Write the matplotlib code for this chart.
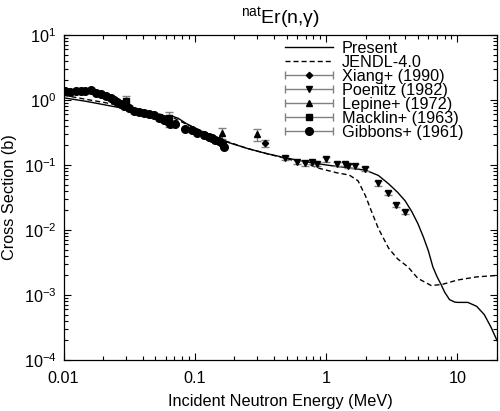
import matplotlib
matplotlib.use('Agg')
import matplotlib.pyplot as plt
import numpy as np
from matplotlib.container import ErrorbarContainer
from matplotlib.legend_handler import HandlerErrorbar

plt.rcParams['font.family'] = ['Liberation Sans', 'DejaVu Sans']
plt.rcParams['font.size'] = 11.7
plt.rcParams['mathtext.fontset'] = 'custom'
plt.rcParams['mathtext.rm'] = 'Liberation Sans'
plt.rcParams['mathtext.it'] = 'Liberation Sans:italic'
plt.rcParams['mathtext.default'] = 'regular'

# evaluated curves (MeV, b)
present_e = [0.01, 0.015, 0.022, 0.03, 0.04, 0.053, 0.062, 0.068, 0.075, 0.085, 0.1,
             0.13, 0.17, 0.25, 0.35, 0.5, 0.7, 1.0, 1.5, 2.0, 2.5, 3.0, 3.5, 4.0,
             4.5, 5.0, 5.5, 6.0, 6.5, 7.0, 7.5, 8.0, 8.7, 9.5, 10.0, 12.0, 14.0,
             16.0, 18.0, 20.0]
present_xs = [1.08, 0.95, 0.82, 0.73, 0.65, 0.59, 0.56, 0.56, 0.52, 0.44, 0.37,
              0.29, 0.23, 0.18, 0.15, 0.128, 0.112, 0.1, 0.09, 0.083, 0.069, 0.051,
              0.038, 0.028, 0.019, 0.0125, 0.0078, 0.0048, 0.0027, 0.0019, 0.00145,
              0.0011, 0.00085, 0.00078, 0.00077, 0.00077, 0.00067, 0.0005, 0.00032,
              0.0002]

jendl_e = [0.01, 0.015, 0.022, 0.03, 0.04, 0.053, 0.062, 0.07, 0.085, 0.1, 0.13,
           0.17, 0.25, 0.35, 0.5, 0.7, 0.9, 1.2, 1.5, 1.75, 2.0, 2.2, 2.5, 3.0,
           3.5, 4.2, 5.0, 6.3, 7.6, 10.0, 14.0, 20.0]
jendl_xs = [1.18, 1.02, 0.89, 0.79, 0.7, 0.61, 0.57, 0.52, 0.43, 0.37, 0.3,
            0.235, 0.18, 0.15, 0.125, 0.105, 0.088, 0.076, 0.07, 0.057, 0.033,
            0.02, 0.0105, 0.0052, 0.0036, 0.0027, 0.0018, 0.0014, 0.00145, 0.0017,
            0.0019, 0.002]

# measurements
xiang_e = [0.34]
xiang_xs = [0.216]
xiang_err = [0.028]

poenitz_e = [0.49, 0.6, 0.69, 0.78, 0.85, 1.0, 1.2, 1.39, 1.47, 1.67, 1.98, 2.5,
             2.96, 3.43, 3.98]
poenitz_xs = [0.127, 0.112, 0.106, 0.112, 0.103, 0.122, 0.103, 0.103, 0.097, 0.097,
              0.086, 0.052, 0.037, 0.0243, 0.019]
poenitz_err = [0.009, 0.008, 0.008, 0.008, 0.007, 0.009, 0.007, 0.007, 0.007, 0.007,
               0.006, 0.004, 0.003, 0.002, 0.0015]

lepine_e = [0.161, 0.297]
lepine_xs = [0.31, 0.296]
lepine_err = [0.06, 0.065]

macklin_e = [0.0297, 0.064]
macklin_xs = [0.95, 0.52]
macklin_err = [0.22, 0.14]

gibbons_e = [0.0103, 0.0113, 0.0124, 0.0135, 0.0147, 0.0163, 0.0176, 0.0192, 0.0209,
             0.0228, 0.0242, 0.0256, 0.0272, 0.0288, 0.0315, 0.0343, 0.0375, 0.041,
             0.0446, 0.0487, 0.0532, 0.058, 0.0615, 0.0652, 0.071, 0.0847, 0.095,
             0.104, 0.117, 0.128, 0.135, 0.143, 0.152, 0.161, 0.166]
gibbons_xs = [1.37, 1.31, 1.39, 1.39, 1.37, 1.44, 1.29, 1.24, 1.16, 1.06, 1.0, 0.92,
              0.87, 0.82, 0.74, 0.68, 0.66, 0.62, 0.6, 0.59, 0.53, 0.49, 0.47, 0.43,
              0.42, 0.36, 0.34, 0.31, 0.29, 0.27, 0.26, 0.24, 0.23, 0.216, 0.19]
gibbons_err = [0.015 * v for v in gibbons_xs]

fig = plt.figure(figsize=(5.0, 4.11), dpi=100)
ax = fig.add_axes([0.127, 0.124, 0.867, 0.791])

ax.plot(present_e, present_xs, color='black', lw=1.0, label='Present')
ax.plot(jendl_e, jendl_xs, color='black', lw=1.0, linestyle=(0, (3.6, 2.2)),
        label='JENDL-4.0')

exp_sets = [
    (xiang_e, xiang_xs, xiang_err, 'D', 3.2, 'Xiang+ (1990)'),
    (poenitz_e, poenitz_xs, poenitz_err, 'v', 4.5, 'Poenitz (1982)'),
    (lepine_e, lepine_xs, lepine_err, '^', 4.5, 'Lepine+ (1972)'),
    (macklin_e, macklin_xs, macklin_err, 's', 4.5, 'Macklin+ (1963)'),
    (gibbons_e, gibbons_xs, gibbons_err, 'o', 5.5, 'Gibbons+ (1961)'),
]

handles, labels = ax.get_legend_handles_labels()
for e, xs, err, mk, ms, lab in exp_sets:
    ax.errorbar(e, xs, yerr=err, fmt=mk, ms=ms, color='black', ecolor='gray',
                elinewidth=1.0, capsize=2.7, capthick=1.0)
    # proxy with horizontal bar for the legend
    h = ax.errorbar([np.nan], [np.nan], xerr=[1.0], fmt=mk, ms=ms, color='black',
                    ecolor='gray', elinewidth=1.0, capsize=2.7, capthick=1.0)
    handles.append(h)
    labels.append(lab)

ax.set_xscale('log')
ax.set_yscale('log')
ax.set_xlim(0.01, 20)
ax.set_ylim(1e-4, 10)
ax.set_xticks([0.01, 0.1, 1, 10])
ax.set_xticklabels(['0.01', '0.1', '1', '10'])

ax.tick_params(which='both', direction='in', top=True, right=True, width=0.8)
ax.tick_params(which='major', length=5)
ax.tick_params(which='minor', length=3)
ax.tick_params(axis='x', which='major', pad=8)
ax.tick_params(axis='y', which='major', pad=5)
for s in ax.spines.values():
    s.set_linewidth(0.9)

ax.set_xlabel('Incident Neutron Energy (MeV)', labelpad=6)
ax.set_ylabel('Cross Section (b)', labelpad=5)
ax.set_title(r'$^{nat}$Er(n,γ)', pad=8)

ax.legend(handles, labels, loc='upper left', bbox_to_anchor=(0.511, 0.982),
          frameon=False, borderpad=0, borderaxespad=0, handlelength=2.95,
          handletextpad=0.55, labelspacing=-0.06,
          handler_map={ErrorbarContainer: HandlerErrorbar(xerr_size=1.47)})

plt.savefig('out.png', dpi=100)
